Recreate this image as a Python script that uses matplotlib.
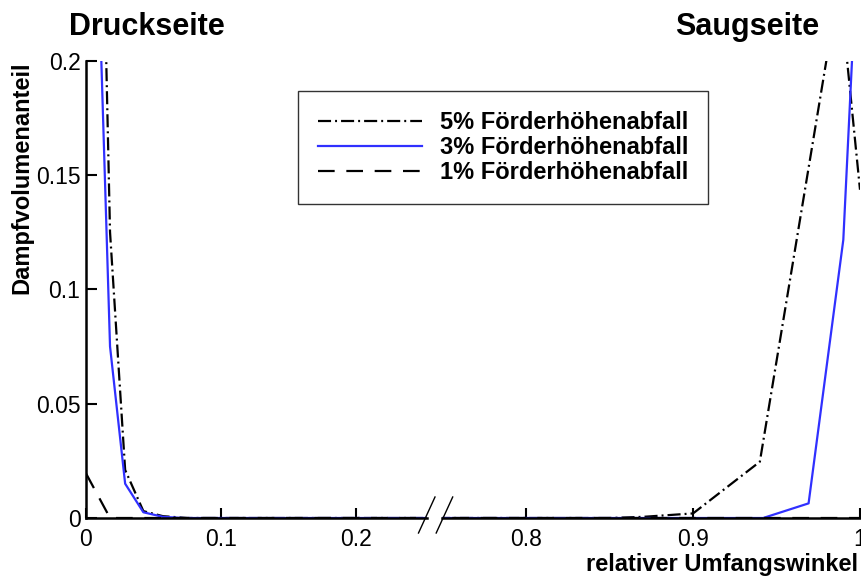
import matplotlib
matplotlib.use("Agg")
import matplotlib.pyplot as plt
from matplotlib.lines import Line2D
from matplotlib.ticker import FuncFormatter

plt.rcParams['font.family'] = ['Liberation Sans', 'DejaVu Sans']
plt.rcParams['lines.scale_dashes'] = False

# relative circumferential angle vs. vapour volume fraction
winkel_5 = [0.0, 0.0178, 0.029, 0.0425, 0.057, 0.075, 0.25, 0.75, 0.85, 0.87, 0.90, 0.94, 0.9876, 1.0]
dampf_5 = [0.60, 0.125, 0.021, 0.003, 0.0008, 0.0, 0.0, 0.0, 0.0, 0.0005, 0.002, 0.0246, 0.234, 0.1435]

winkel_3 = [0.0, 0.0178, 0.029, 0.0425, 0.057, 0.072, 0.25, 0.75, 0.942, 0.9692, 0.990, 1.0]
dampf_3 = [0.42, 0.075, 0.015, 0.0025, 0.0005, 0.0, 0.0, 0.0, 0.0, 0.0064, 0.1216, 0.272]

winkel_1 = [0.0, 0.0178, 0.25, 0.75, 1.0]
dampf_1 = [0.0195, 0.0, 0.0, 0.0, 0.0]

labels = ['5% Förderhöhenabfall', '3% Förderhöhenabfall', '1% Förderhöhenabfall']
yticks = [0, 0.05, 0.1, 0.15, 0.2]
xticks_links = [0, 0.1, 0.2]
xticks_rechts = [0.8, 0.9, 1.0]

W, H = 861, 578
fig = plt.figure(figsize=(W / 100, H / 100), dpi=100)

def px_box(x0, x1, y_top, y_bot):
    return [x0 / W, 1 - y_bot / H, (x1 - x0) / W, (y_bot - y_top) / H]

ax_l = fig.add_axes(px_box(86, 427, 60.5, 518))
ax_r = fig.add_axes(px_box(442, 860, 60.5, 518))

blue = '#3030ff'
styles = [
    dict(color='black', lw=1.6, dashes=(9.4, 2.9, 1.4, 2.9)),
    dict(color=blue, lw=1.6),
    dict(color='black', lw=1.6, dashes=(12, 8.4)),
]
series = [(winkel_5, dampf_5), (winkel_3, dampf_3), (winkel_1, dampf_1)]

handles = []
for ax in (ax_l, ax_r):
    for (x, y), st, lab in zip(series, styles, labels):
        h, = ax.plot(x, y, label=lab, **st)
        if ax is ax_l:
            handles.append(h)

fmt = FuncFormatter(lambda v, p: f'{v:g}')
for ax in (ax_l, ax_r):
    ax.set_ylim(0, 0.2)
    ax.spines['top'].set_visible(False)
    ax.spines['right'].set_visible(False)
    ax.spines['bottom'].set_linewidth(1.8)
    ax.spines['left'].set_linewidth(1.8)
    ax.tick_params(direction='in', length=7, width=1.5, labelsize=16.5, pad=7)
    ax.xaxis.set_major_formatter(fmt)
    ax.yaxis.set_major_formatter(fmt)

ax_l.set_xlim(0, 0.2526)
ax_l.set_xticks(xticks_links)
ax_l.set_yticks(yticks)
ax_l.tick_params(axis='y', length=8, pad=4)

ax_r.set_xlim(0.7496, 1.0)
ax_r.set_xticks(xticks_rechts)
ax_r.spines['left'].set_visible(False)
ax_r.set_yticks([])

# break marks on the x axis
for x_top in (435, 452.7):
    fig.add_artist(Line2D([x_top / W, (x_top - 16.5) / W],
                          [1 - 497 / H, 1 - 533 / H],
                          transform=fig.transFigure, color='black', lw=1.0))

leg = fig.legend(handles=handles, loc='upper left',
                 bbox_to_anchor=(298 / W, 1 - 91 / H),
                 prop=dict(size=17, weight='bold'),
                 handlelength=4.4, handletextpad=0.75, labelspacing=0.08,
                 borderpad=0.85, borderaxespad=0, fancybox=False, framealpha=1)
leg.get_frame().set_edgecolor('#333333')
leg.get_frame().set_linewidth(1.0)

fig.text(147 / W, 1 - 27 / H, 'Druckseite', ha='center', va='center',
         fontsize=22, fontweight='bold')
fig.text(747 / W, 1 - 27 / H, 'Saugseite', ha='center', va='center',
         fontsize=22, fontweight='bold')
fig.text(22 / W, 1 - 178 / H, 'Dampfvolumenanteil', rotation=90,
         ha='center', va='center', fontsize=17, fontweight='bold')
fig.text(858 / W, 1 - 565 / H, 'relativer Umfangswinkel', ha='right',
         va='center', fontsize=17, fontweight='bold')

fig.savefig('out.png', dpi=100)
